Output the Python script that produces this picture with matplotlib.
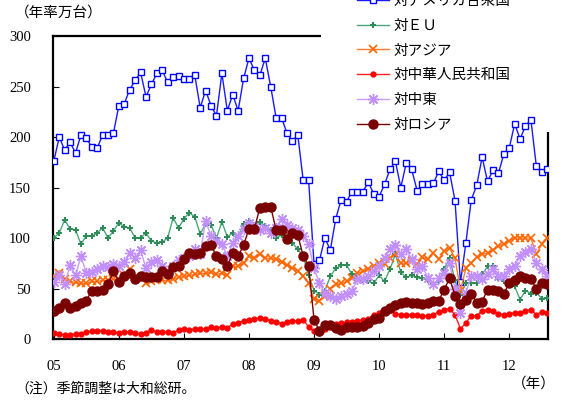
import matplotlib
matplotlib.use('Agg')
import matplotlib.pyplot as plt
from matplotlib.patches import Rectangle

plt.rcParams['font.family'] = ['Liberation Serif', 'Noto Sans CJK JP']

# monthly, Jan 2005 .. Aug 2012 (annualized, 10k units)
years = ['05', '06', '07', '08', '09', '10', '11', '12']

usa = [176, 200, 187, 195, 184, 202, 199, 190, 189, 202, 202, 204,
       231, 233, 247, 256, 264, 240, 252, 263, 266, 254, 259, 260,
       257, 257, 261, 229, 246, 231, 221, 263, 226, 242, 226, 258,
       278, 266, 261, 278, 250, 219, 219, 204, 196, 202, 157, 157,
       74, 78, 100, 88, 119, 138, 136, 146, 146, 146, 155, 144,
       141, 153, 168, 176, 150, 174, 168, 147, 153, 153, 154, 166,
       157, 165, 137, 56, 95, 138, 152, 180, 156, 167, 164, 183,
       189, 213, 198, 211, 217, 171, 165, 168]

eu = [100, 105, 118, 109, 108, 94, 102, 102, 105, 110, 100, 107,
      115, 111, 110, 100, 100, 105, 97, 95, 96, 100, 120, 110,
      119, 125, 121, 104, 114, 113, 100, 116, 101, 105, 101, 114,
      117, 113, 116, 112, 108, 100, 103, 98, 95, 89, 82, 63,
      48, 44, 48, 62, 70, 73, 73, 64, 60, 58, 57, 55,
      63, 57, 69, 84, 66, 61, 63, 61, 60, 58, 54, 57,
      69, 80, 58, 44, 55, 55, 55, 64, 72, 72, 60, 57,
      55, 52, 39, 48, 45, 46, 40, 41]

asia = [62, 65, 59, 57, 56, 55, 55, 57, 57, 58, 58, 59,
        59, 63, 69, 61, 60, 55, 57, 59, 58, 58, 59, 61,
        62, 63, 64, 65, 65, 66, 64, 65, 63, 72, 72, 75,
        82, 80, 84, 80, 80, 79, 76, 73, 70, 67, 62, 55,
        40, 38, 43, 50, 54, 55, 57, 60, 65, 67, 69, 72,
        75, 74, 80, 84, 75, 75, 77, 74, 81, 79, 85, 79,
        87, 90, 80, 48, 70, 75, 81, 84, 85, 88, 92, 94,
        97, 100, 100, 100, 100, 84, 94, 100]

china = [6, 5, 4, 4, 5, 5, 7, 8, 8, 8, 7, 7,
         6, 7, 7, 6, 5, 6, 9, 7, 7, 7, 6, 9,
         10, 9, 10, 10, 10, 12, 11, 12, 11, 15, 16, 18,
         19, 20, 21, 20, 18, 17, 15, 17, 18, 18, 19, 12,
         8, 6, 10, 13, 15, 16, 17, 17, 18, 19, 20, 24,
         26, 28, 29, 25, 24, 24, 24, 24, 23, 23, 24, 27,
         29, 30, 24, 10, 16, 23, 23, 28, 29, 28, 25, 24,
         25, 26, 26, 28, 29, 24, 27, 26]

mideast = [56, 63, 54, 73, 63, 82, 65, 66, 69, 72, 71, 74,
           72, 76, 85, 80, 88, 70, 76, 78, 72, 65, 72, 78,
           80, 82, 89, 84, 117, 102, 97, 94, 82, 95, 102, 109,
           115, 111, 108, 110, 105, 110, 119, 113, 110, 108, 102, 94,
           70, 55, 46, 43, 40, 43, 45, 48, 59, 59, 62, 67,
           72, 80, 89, 93, 84, 89, 79, 69, 72, 60, 54, 60,
           65, 75, 50, 26, 46, 62, 62, 59, 64, 69, 62, 62,
           69, 72, 82, 86, 89, 75, 69, 62]

russia = [28, 31, 36, 31, 33, 36, 38, 48, 48, 49, 54, 67,
          56, 62, 65, 59, 62, 61, 61, 61, 67, 64, 71, 72,
          79, 85, 84, 85, 92, 93, 82, 79, 72, 85, 82, 93,
          109, 109, 130, 131, 131, 108, 108, 99, 105, 103, 82, 72,
          19, 8, 14, 14, 11, 9, 12, 12, 12, 13, 16, 20,
          21, 28, 31, 34, 36, 37, 36, 36, 35, 36, 38, 38,
          49, 60, 43, 35, 39, 45, 36, 37, 49, 49, 48, 45,
          55, 58, 62, 60, 59, 50, 55, 54]

months = list(range(len(usa)))

fig = plt.figure(figsize=(5.67, 4.0), dpi=100)
ax = fig.add_axes([53/567, 1 - 339/400, 495/567, 303/400])

ax.plot(months, usa, color='#1a1aff', lw=1, marker='s', ms=4,
        mfc='white', mec='#0000ff', mew=1, label='対アメリカ合衆国', zorder=4)
ax.plot(months, eu, color='#4aa878', lw=1, marker='P', ms=4.5,
        mfc='#2e8b57', mec='#2e8b57', mew=0, label='対ＥＵ', zorder=4)
ax.plot(months, asia, color='#ff7a2a', lw=1, marker='x', ms=6,
        mec='#ff6600', mew=1.2, label='対アジア', zorder=4)
ax.plot(months, china, color='#ff2020', lw=1, marker='o', ms=3.5,
        mfc='#ff0000', mec='#ff0000', label='対中華人民共和国', zorder=4)
ax.plot(months, mideast, color='#c89bff', lw=1, marker=(8, 2, 0), ms=8,
        mec='#c28fff', mew=1, label='対中東', zorder=4)
ax.plot(months, russia, color='#7a0000', lw=1, marker='o', ms=6.5,
        mfc='#7a0000', mec='#7a0000', label='対ロシア', zorder=4)

ax.set_xlim(-0.15, 91.15)
ax.set_ylim(0, 300)
ax.set_xticks(range(0, 96, 12))
ax.set_xticklabels(years)
ax.set_yticks(range(0, 301, 50))
ax.tick_params(axis='x', direction='in', length=4, pad=15, labelsize=10.5)
ax.tick_params(axis='y', direction='in', length=4, pad=16, labelsize=10.5)
for side in ['left', 'bottom', 'top', 'right']:
    ax.spines[side].set_linewidth(1.6)

# white box behind the legend hides the frame corner (not the lines)
ax.add_patch(Rectangle((321/567, 1 - 132/400), 1, 0.5, transform=fig.transFigure,
                       facecolor='white', edgecolor='none', zorder=3,
                       clip_on=False))

leg = ax.legend(loc='upper left', bbox_to_anchor=(357/567, 1.014),
                bbox_transform=fig.transFigure, frameon=False,
                fontsize=10.5, handlelength=2.2, handletextpad=0.3,
                labelspacing=0.8, borderpad=0, borderaxespad=0)
leg.set_zorder(5)

fig.text(15/567, 1 - 13/400, '（年率万台）', fontsize=10.5, va='center')
fig.text(15/567, 1 - 389/400, '（注）季節調整は大和総研。', fontsize=10, va='center')
fig.text(556/567, 1 - 384/400, '（年）', fontsize=10.5, va='center', ha='right')

fig.savefig('out.png', dpi=100)
